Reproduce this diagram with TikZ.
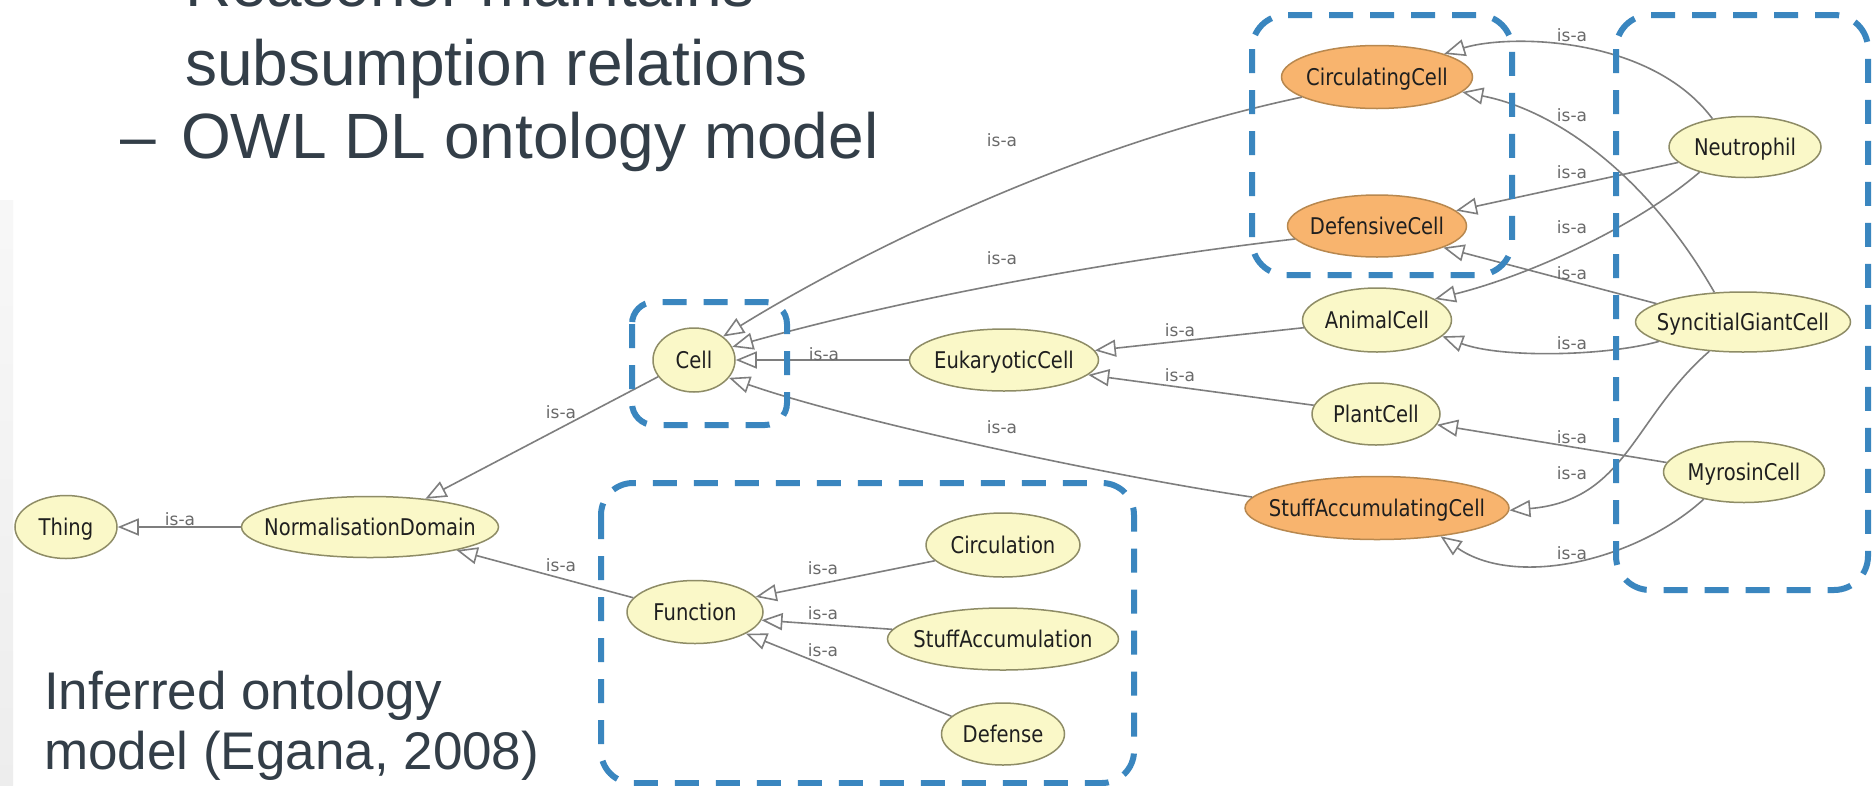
\documentclass[tikz,border=0pt]{standalone}
\usepackage{fontspec}
\setmainfont{Liberation Sans}
\newfontfamily\graphfont[FakeStretch=0.85]{DejaVu Sans}
\newfontfamily\labelfont{DejaVu Sans}
\usetikzlibrary{arrows.meta,shapes.geometric}

\definecolor{slidetext}{HTML}{333E48}
\definecolor{nodefill}{HTML}{FAF8C8}
\definecolor{nodeedge}{HTML}{8E8C66}
\definecolor{hotfill}{HTML}{F8B46E}
\definecolor{hotedge}{HTML}{B8884F}
\definecolor{edgegray}{HTML}{7E7E7E}
\definecolor{labgray}{HTML}{6A6A6A}
\definecolor{boxblue}{HTML}{3A86BF}

\newcommand\clsname[1]{\makebox[0pt]{#1}}

\tikzset{
  cls/.style={ellipse, draw=nodeedge, fill=nodefill, line width=1.5pt,
    inner sep=0pt, text=black!88, text height=17pt, text depth=0pt,
    font=\graphfont\fontsize{23}{23}\selectfont},
  hot/.style={cls, draw=hotedge, fill=hotfill},
  isa/.style={draw=edgegray, line width=1.6pt,
    -{Triangle[length=21pt,width=17pt,fill=white]}},
  lab/.style={font=\labelfont\fontsize{17}{17}\selectfont, text=labgray, inner sep=0pt},
  slide/.style={anchor=base west, inner sep=0pt, text=slidetext},
  dashbox/.style={draw=boxblue, line width=6pt, dash pattern=on 24pt off 17pt}
}

\begin{document}
\begin{tikzpicture}[x=1pt,y=-1pt]
\useasboundingbox (0,0) rectangle (1874,785);
\clip (0,0) rectangle (1874,785);
\fill[white] (0,0) rectangle (1874,785);
\shade[top color=black!3, bottom color=black!7] (0,200) rectangle (13,785);

% slide text
\node[slide, font=\fontsize{64}{64}\selectfont] (t1) at (185,6) {Reasoner maintains};
\node[slide, font=\fontsize{64}{64}\selectfont] (t2) at (185,85) {subsumption relations};
\node[slide, font=\fontsize{64}{64}\selectfont] (t3dash) at (120,158) {–};
\node[slide, font=\fontsize{64}{64}\selectfont] (t3) at (181,158) {OWL DL ontology model};
\node[slide, font=\fontsize{53}{53}\selectfont] (t4) at (44,709) {Inferred ontology};
\node[slide, font=\fontsize{53}{53}\selectfont] (t5) at (44,769) {model (Egana, 2008)};

% classes
\node[cls, minimum width=102pt, minimum height=63pt] (thing) at (66,527) {\clsname{Thing}};
\node[cls, minimum width=257pt, minimum height=61pt] (nd) at (370,527) {\clsname{NormalisationDomain}};
\node[cls, minimum width=82pt, minimum height=64pt] (cell) at (694,360) {\clsname{Cell}};
\node[cls, minimum width=189pt, minimum height=62pt] (euk) at (1004,360) {\clsname{EukaryoticCell}};
\node[cls, minimum width=136pt, minimum height=63pt] (fn) at (695,612) {\clsname{Function}};
\node[cls, minimum width=154pt, minimum height=64pt] (circ) at (1003,545) {\clsname{Circulation}};
\node[cls, minimum width=231pt, minimum height=62pt] (stacc) at (1003,639) {\clsname{StuffAccumulation}};
\node[cls, minimum width=123pt, minimum height=62pt] (def) at (1003,734) {\clsname{Defense}};
\node[hot, minimum width=191pt, minimum height=63pt] (circc) at (1377,77) {\clsname{CirculatingCell}};
\node[hot, minimum width=179pt, minimum height=62pt] (defc) at (1377,226) {\clsname{DefensiveCell}};
\node[cls, minimum width=149pt, minimum height=64pt] (animal) at (1377,320) {\clsname{AnimalCell}};
\node[cls, minimum width=128pt, minimum height=62pt] (plant) at (1376,414) {\clsname{PlantCell}};
\node[hot, minimum width=264pt, minimum height=63pt] (sacc) at (1377,508) {\clsname{StuffAccumulatingCell}};
\node[cls, minimum width=152pt, minimum height=61pt] (neut) at (1745,147) {\clsname{Neutrophil}};
\node[cls, minimum width=215pt, minimum height=60pt] (sgc) at (1743,322) {\clsname{SyncitialGiantCell}};
\node[cls, minimum width=161pt, minimum height=61pt] (myro) at (1744,472) {\clsname{MyrosinCell}};

% subsumption edges
\draw[isa] (nd.west) -- (thing.east);
\draw[isa] (cell.205) -- (nd.27);
\draw[isa] (fn.167) -- (nd.345);
\draw[isa] (circ.193) -- (fn.14);
\draw[isa] (stacc.175) -- (fn.353);
\draw[isa] (def.161) -- (fn.337);
\draw[isa] (euk.west) -- (cell.east);
\draw[isa] (circc.195) .. controls +(-250,53) and +(105,-65) .. (cell.39);
\draw[isa] (defc.189) .. controls +(-190,22) and +(168,-47) .. (cell.19);
\draw[isa] (sacc.175) .. controls +(-148,-22) and +(120,42) .. (cell.333);
\draw[isa] (animal.186) -- (euk.6);
\draw[isa] (plant.172) -- (euk.350);
\draw[isa] (neut.139) .. controls +(-62,-83) and +(65,-20) .. (circc.19);
\draw[isa] (sgc.134) .. controls +(-64,-112) and +(98,19) .. (circc.350);
\draw[isa] (neut.193) -- (defc.11);
\draw[isa] (neut.209) .. controls +(-64,55) and +(93,-23) .. (animal.20);
\draw[isa] (sgc.168) -- (defc.342);
\draw[isa] (sgc.193) .. controls +(-54,15) and +(58,22) .. (animal.346);
\draw[isa] (myro.173) -- (plant.350);
\draw[isa] (sgc.221) .. controls +(-77,67) and +(117,-10) .. (sacc.359);
\draw[isa] (myro.214) .. controls +(-68,62) and +(75,52) .. (sacc.336);

% edge labels
\node[lab] (l1) at (180,519) {is-a};
\node[lab] (l2) at (561,412) {is-a};
\node[lab] (l3) at (561,565) {is-a};
\node[lab] (l4) at (823,568) {is-a};
\node[lab] (l5) at (823,613) {is-a};
\node[lab] (l6) at (823,650) {is-a};
\node[lab] (l7) at (824,354) {is-a};
\node[lab] (l8) at (1002,140) {is-a};
\node[lab] (l9) at (1002,258) {is-a};
\node[lab] (l10) at (1002,427) {is-a};
\node[lab] (l11) at (1180,330) {is-a};
\node[lab] (l12) at (1180,375) {is-a};
\node[lab] (l13) at (1572,35) {is-a};
\node[lab] (l14) at (1572,115) {is-a};
\node[lab] (l15) at (1572,172) {is-a};
\node[lab] (l16) at (1572,227) {is-a};
\node[lab] (l17) at (1572,273) {is-a};
\node[lab] (l18) at (1572,343) {is-a};
\node[lab] (l19) at (1572,437) {is-a};
\node[lab] (l20) at (1572,473) {is-a};
\node[lab] (l21) at (1572,553) {is-a};

% highlight frames
\draw[dashbox, rounded corners=22pt] (632,302) rectangle (787,425);
\draw[dashbox, rounded corners=32pt] (601,483) rectangle (1134,783);
\draw[dashbox, rounded corners=34pt] (1252,15) rectangle (1512,275);
\draw[dashbox, rounded corners=34pt] (1616,15) rectangle (1868,590);
\end{tikzpicture}
\end{document}
